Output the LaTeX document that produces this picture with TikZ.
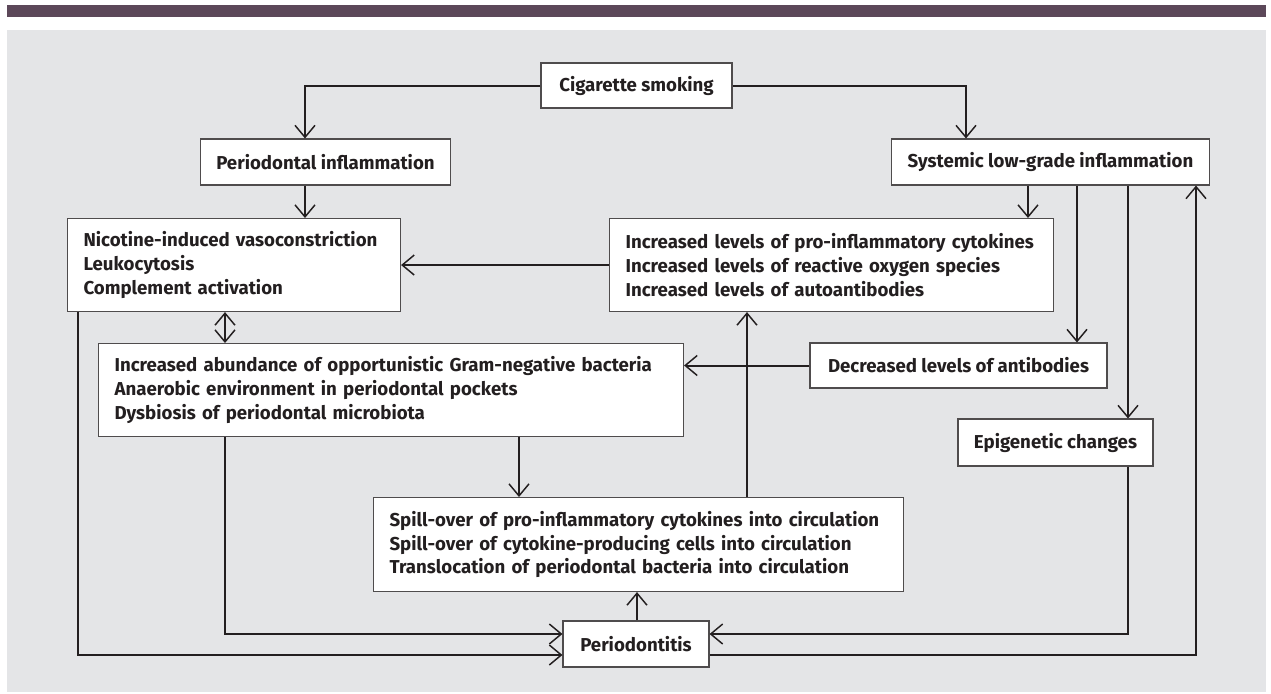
\documentclass[tikz,border=0pt]{standalone}
\usepackage{fontspec}
\setmainfont{Fira Sans}
\usetikzlibrary{arrows.meta}
\definecolor{band}{HTML}{5C4859}
\definecolor{panel}{HTML}{E4E5E7}
\definecolor{ink}{HTML}{231F20}
\begin{document}
\begin{tikzpicture}[x=0.75pt,y=-0.75pt,
    >={Straight Barb[length=9pt,width=15pt,line width=1.1pt]},
    box/.style={draw=ink!80, line width=0.8pt, fill=white, text=ink,
      font=\bfseries\fontsize{14}{17.75}\selectfont, inner xsep=12pt, inner ysep=0pt},
    onebox/.style={box, minimum height=34.5pt},
    listbox/.style={box, anchor=north west, align=left, minimum height=69.75pt},
    link/.style={draw=ink, line width=1.5pt, ->}]
  \useasboundingbox (0,0) rectangle (1271,693);
  \fill[band] (7,5) rectangle (1266,17);
  \fill[panel] (7,30) rectangle (1266,692);

  % boxes
  \node[onebox, minimum width=143.25pt, minimum height=33.75pt] (cig) at (636.5,85.5) {Cigarette smoking};
  \node[onebox, minimum width=186.75pt] (pinf) at (325.5,162) {Periodontal inflammation};
  \node[onebox, minimum width=237.75pt] (sys) at (1050.5,162) {Systemic low-grade inflammation};
  \node[listbox, text width=225.75pt] (nic) at (67,218)
    {Nicotine-induced vasoconstriction\\Leukocytosis\\Complement activation};
  \node[listbox, text width=309pt] (inc) at (609,218)
    {Increased levels of pro-inflammatory cytokines\\Increased levels of reactive oxygen species\\Increased levels of autoantibodies};
  \node[listbox, text width=414.75pt] (abu) at (98,343)
    {Increased abundance of opportunistic Gram-negative bacteria\\Anaerobic environment in periodontal pockets\\Dysbiosis of periodontal microbiota};
  \node[onebox, minimum width=222.75pt, minimum height=33.75pt] (dec) at (958.5,365.5) {Decreased levels of antibodies};
  \node[onebox, minimum width=146.25pt, minimum height=35.25pt] (epi) at (1055.5,442.5) {Epigenetic changes};
  \node[listbox, text width=373.5pt, minimum height=70.5pt] (spl) at (373,497)
    {Spill-over of pro-inflammatory cytokines into circulation\\Spill-over of cytokine-producing cells into circulation\\Translocation of periodontal bacteria into circulation};
  \node[onebox, minimum width=109.5pt] (per) at (636,644) {Periodontitis};

  % columns and rows for the connectors
  \coordinate (xL) at (78,0);
  \coordinate (xAb) at (225,0);
  \coordinate (xP) at (305,0);
  \coordinate (xSp) at (519,0);
  \coordinate (xPd) at (637,0);
  \coordinate (xUp) at (747,0);
  \coordinate (xS1) at (966,0);
  \coordinate (xS2) at (1028,0);
  \coordinate (xS3) at (1077,0);
  \coordinate (xS4) at (1128,0);
  \coordinate (xR) at (1196,0);
  \coordinate (yHi) at (0,634);
  \coordinate (yLo) at (0,655);

  \draw[link] (cig.west) -| (pinf.north -| xP);
  \draw[link] (cig.east) -| (sys.north -| xS1);
  \draw[link] (pinf.south -| xP) -- (nic.north -| xP);
  \draw[link] (sys.south -| xS2) -- (inc.north -| xS2);
  \draw[link] (sys.south -| xS3) -- (dec.north -| xS3);
  \draw[link] (sys.south -| xS4) -- (epi.north -| xS4);
  \draw[link] (inc.west) -- (nic.east);
  \draw[link, <->] (nic.south -| xAb) -- (abu.north -| xAb);
  \draw[link] (dec.west) -- (dec.west -| abu.east);
  \draw[link] (abu.south -| xSp) -- (spl.north -| xSp);
  \draw[link] (spl.north -| xUp) -- (inc.south -| xUp);
  \draw[link] (per.north -| xPd) -- (spl.south -| xPd);
  \draw[link] (nic.south -| xL) |- (per.west |- yLo);
  \draw[link] (abu.south -| xAb) |- (per.west |- yHi);
  \draw[link] (epi.south -| xS4) |- (per.east |- yHi);
  \draw[link] (per.east |- yLo) -| (sys.south -| xR);
\end{tikzpicture}
\end{document}
